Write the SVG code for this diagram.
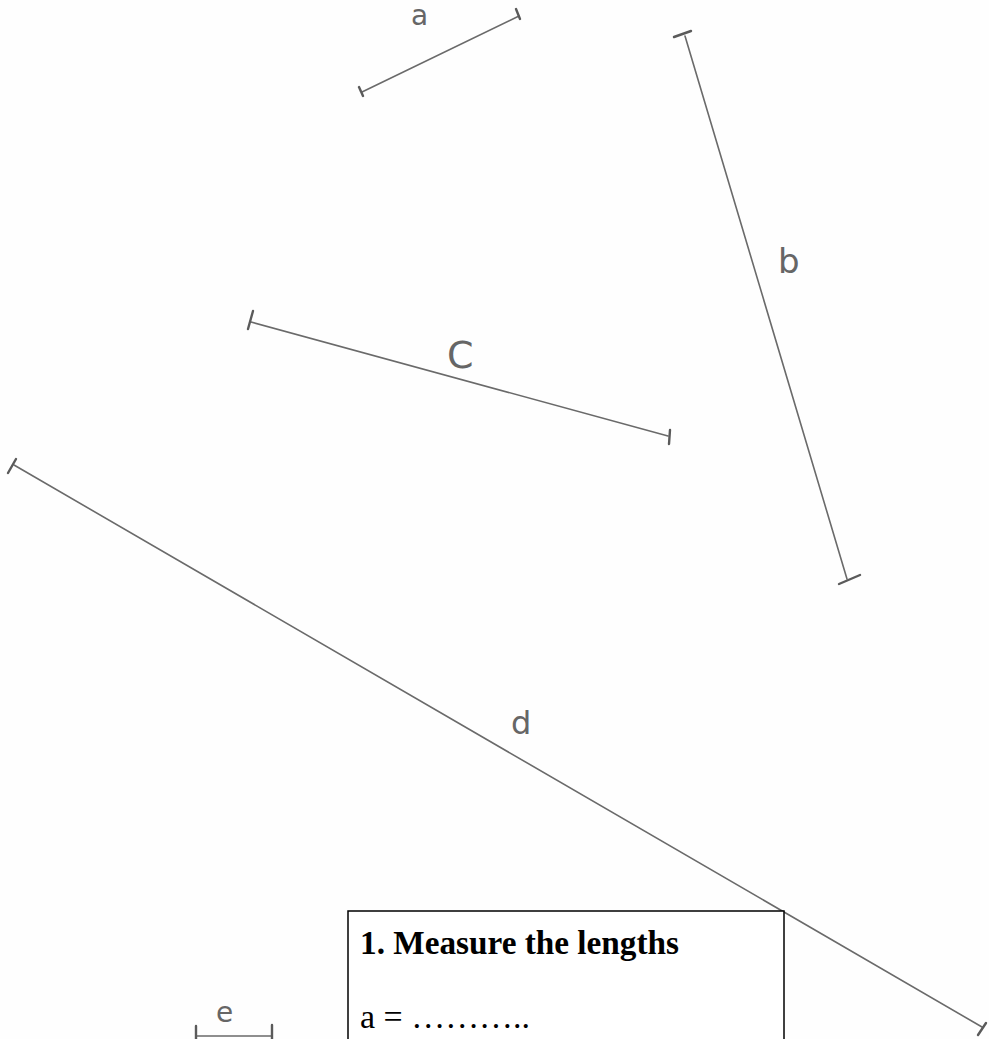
<svg xmlns="http://www.w3.org/2000/svg" width="989" height="1039" viewBox="0 0 989 1039">
<style>
.seg{stroke:#6a6a6a;stroke-width:1.6;fill:none;stroke-linecap:round}
.tick{stroke:#5a5a5a;stroke-width:2.4;fill:none;stroke-linecap:round}
.lbl{font-family:"DejaVu Sans",sans-serif;font-size:28px;fill:#666;font-weight:normal}
.bx{font-family:"Liberation Serif",serif;font-size:33px;fill:#000}
</style>
<rect width="989" height="1039" fill="#fefefe"/>
<g id="connectors">
<g id="seg-a">
<line class="seg" x1="362" y1="92" x2="519" y2="16"/>
<line class="tick" x1="359" y1="87" x2="363" y2="96"/>
<line class="tick" x1="516" y1="9" x2="520" y2="19"/>
</g>
<g id="seg-b">
<line class="seg" x1="685" y1="36" x2="847" y2="579"/>
<line class="tick" x1="674" y1="37" x2="691" y2="31"/>
<line class="tick" x1="839" y1="584" x2="860" y2="575"/>
</g>
<g id="seg-c">
<line class="seg" x1="251" y1="322" x2="668" y2="436"/>
<line class="tick" x1="248" y1="329" x2="253" y2="311"/>
<line class="tick" x1="669" y1="444" x2="670" y2="430"/>
</g>
<g id="seg-d">
<line class="seg" x1="14" y1="465" x2="982" y2="1027"/>
<line class="tick" x1="8" y1="473" x2="16" y2="459"/>
<line class="tick" x1="978" y1="1035" x2="986" y2="1023"/>
</g>
<g id="seg-e">
<line class="seg" x1="197" y1="1036" x2="271" y2="1036"/>
<line class="tick" x1="196" y1="1026" x2="196" y2="1039"/>
<line class="tick" x1="272" y1="1025" x2="272" y2="1039"/>
</g>
</g>
<g id="labels">
<text class="lbl" x="411" y="25">a</text>
<text class="lbl" x="778" y="273" style="font-size:34px">b</text>
<text class="lbl" x="447" y="368" style="font-size:38px">C</text>
<text class="lbl" x="511" y="734" style="font-size:32px">d</text>
<text class="lbl" x="216" y="1022">e</text>
</g>
<g id="box">
<rect x="348" y="911" width="436" height="140" fill="#fff" stroke="#000" stroke-width="1.5"/>
<text class="bx" x="360" y="954" font-weight="bold" textLength="319" lengthAdjust="spacingAndGlyphs">1. Measure the lengths</text>
<text class="bx" x="360" y="1028" textLength="170" lengthAdjust="spacingAndGlyphs">a = ………..</text>
</g>
</svg>
